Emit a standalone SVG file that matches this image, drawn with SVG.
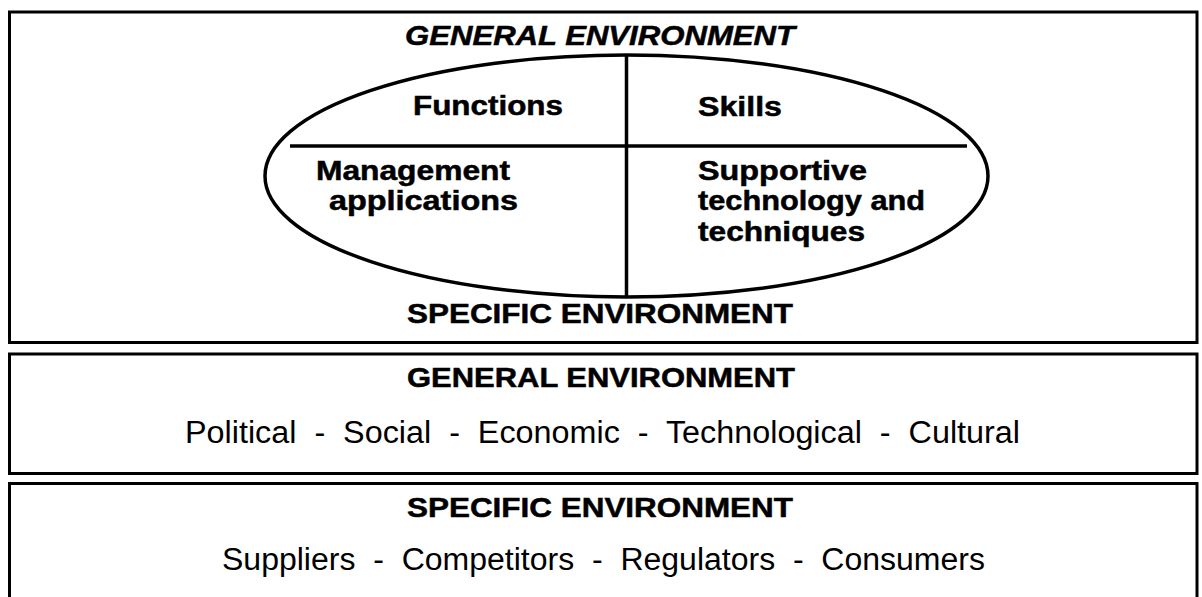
<svg xmlns="http://www.w3.org/2000/svg" width="1202" height="597" viewBox="0 0 1202 597">
  <style>
    .frame { fill: #ffffff; stroke: #000000; stroke-width: 3; }
    .rule { fill: none; stroke: #000000; stroke-width: 3.5; }
    .head { font-family: "Liberation Sans", Arial, sans-serif; font-weight: bold; font-size: 27px; fill: #000000; stroke: #000000; stroke-width: 0.5; }
    .cell { font-family: "Liberation Sans", Arial, sans-serif; font-weight: bold; font-size: 27px; fill: #000000; stroke: #000000; stroke-width: 0.5; }
    .list { font-family: "Liberation Sans", Arial, sans-serif; font-size: 31px; fill: #000000; white-space: pre; }
  </style>
  <rect width="1202" height="597" fill="#ffffff"/>

  <!-- Organisation: functions, skills, applications, techniques -->
  <g id="organisation">
    <rect class="frame" x="9.5" y="12" width="1187.5" height="330.5"/>
    <text class="head" x="405" y="45" font-style="italic" textLength="390" lengthAdjust="spacingAndGlyphs">GENERAL ENVIRONMENT</text>
    <g id="core-ellipse">
      <ellipse class="rule" cx="626.5" cy="176" rx="361.5" ry="121"/>
      <line class="rule" x1="626.5" y1="55" x2="626.5" y2="297"/>
      <line class="rule" x1="290" y1="146" x2="967" y2="146"/>
      <text class="cell" x="413" y="115" textLength="150" lengthAdjust="spacingAndGlyphs">Functions</text>
      <text class="cell" x="698" y="116" textLength="84" lengthAdjust="spacingAndGlyphs">Skills</text>
      <text class="cell" x="316" y="180" textLength="194" lengthAdjust="spacingAndGlyphs">Management</text>
      <text class="cell" x="329" y="210" textLength="189" lengthAdjust="spacingAndGlyphs">applications</text>
      <text class="cell" x="698" y="180" textLength="169" lengthAdjust="spacingAndGlyphs">Supportive</text>
      <text class="cell" x="698" y="210" textLength="227" lengthAdjust="spacingAndGlyphs">technology and</text>
      <text class="cell" x="698" y="241" textLength="167" lengthAdjust="spacingAndGlyphs">techniques</text>
    </g>
    <text class="head" x="407" y="323" textLength="386" lengthAdjust="spacingAndGlyphs">SPECIFIC ENVIRONMENT</text>
  </g>

  <!-- General environment band -->
  <g id="general-environment">
    <rect class="frame" x="9.5" y="354" width="1187.5" height="119.5"/>
    <text class="head" x="407" y="387" textLength="388" lengthAdjust="spacingAndGlyphs">GENERAL ENVIRONMENT</text>
    <text class="list" x="185" y="443" textLength="835" lengthAdjust="spacingAndGlyphs" xml:space="preserve">Political  -  Social  -  Economic  -  Technological  -  Cultural</text>
  </g>

  <!-- Specific environment band -->
  <g id="specific-environment">
    <rect class="frame" x="9.5" y="483.5" width="1187.5" height="130"/>
    <text class="head" x="407" y="517" textLength="386" lengthAdjust="spacingAndGlyphs">SPECIFIC ENVIRONMENT</text>
    <text class="list" x="222" y="570" textLength="763" lengthAdjust="spacingAndGlyphs" xml:space="preserve">Suppliers  -  Competitors  -  Regulators  -  Consumers</text>
  </g>
</svg>
